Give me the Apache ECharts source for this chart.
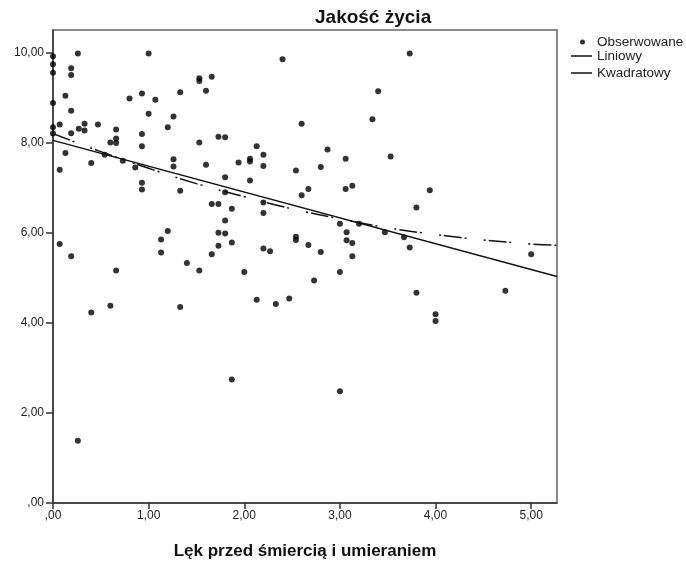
<!DOCTYPE html>
<html>
<head>
<meta charset="utf-8">
<script src="https://cdn.jsdelivr.net/npm/echarts@6/dist/echarts.min.js"></script>
<style>
  html, body { margin: 0; padding: 0; background: #fff; }
  #chart { width: 686px; height: 565px; }
</style>
</head>
<body>
<div id="chart"></div>
<script>
var obsX = [0.00,0.00,0.00,0.00,0.00,0.00,0.07,0.07,0.13,0.13,0.19,0.19,0.19,0.19,0.26,0.27,0.33,0.33,0.40,0.47,
  0.54,0.60,0.66,0.66,0.66,0.73,0.80,0.86,0.93,0.93,0.93,0.93,0.93,1.00,1.00,1.07,1.20,1.26,1.26,1.26,
  1.33,1.33,1.53,1.53,1.53,1.60,1.60,1.66,1.73,1.80,1.80,1.80,
  2.40,3.73,3.40,3.34,2.60,2.13,2.20,1.94,2.06,2.06,2.20,2.87,3.06,3.53,2.06,2.54,2.80,2.60,2.67,3.06,3.13,3.94,
  0.07,0.19,0.40,0.60,0.66,1.13,1.13,1.20,1.33,1.40,1.53,1.66,1.73,1.80,1.73,1.80,1.73,1.66,1.87,
  1.87,1.87,2.20,2.20,2.00,2.13,2.33,2.47,2.20,2.27,2.54,2.54,2.67,2.80,2.73,3.00,3.00,3.07,3.07,3.13,3.13,
  3.20,3.47,3.67,3.73,3.80,3.80,4.00,4.00,
  5.00,4.73,0.26,3.00];
var obsY = [9.92,9.74,9.55,8.88,8.34,8.20,8.40,7.40,9.04,7.77,9.65,9.50,8.71,8.21,9.98,8.31,8.42,8.27,7.55,8.40,
  7.73,8.00,8.29,8.09,7.99,7.60,8.98,7.45,9.09,8.19,7.92,7.11,6.96,9.98,8.64,8.95,8.34,8.58,7.63,7.47,
  9.12,6.93,9.43,9.37,8.00,9.15,7.51,9.46,8.13,8.12,7.23,6.90,
  9.85,9.98,9.14,8.52,8.42,7.92,7.73,7.56,7.64,7.58,7.48,7.85,7.64,7.69,7.16,7.38,7.46,6.83,6.97,6.97,7.04,6.94,
  5.75,5.48,4.23,4.38,5.16,5.85,5.56,6.04,4.35,5.33,5.16,6.64,6.64,6.27,6.00,5.98,5.71,5.52,2.74,
  6.53,5.78,6.67,6.44,5.13,4.51,4.42,4.54,5.65,5.59,5.91,5.84,5.73,5.57,4.94,5.13,6.20,6.01,5.83,5.77,5.48,
  6.20,6.01,5.90,5.67,6.56,4.67,4.19,4.04,
  5.52,4.71,1.38,2.48];

// fit lines
var linX = [0, 5.27];
var linY = [8.05, 5.03];
var quadX = [0, 0.5, 1, 1.5, 2, 2.5, 3, 3.5, 4, 4.5, 5, 5.27];
var quadY = [8.20, 7.80, 7.43, 7.09, 6.80, 6.53, 6.31, 6.11, 5.96, 5.84, 5.75, 5.72];

var xTicks = [0, 1, 2, 3, 4, 5];
var yTicks = [0, 2, 4, 6, 8, 10];

var FONT = '"Liberation Sans", Arial, sans-serif';

function fmt(v) {
  var s = v.toFixed(2).replace('.', ',');
  if (s.indexOf('0,') === 0) s = s.substring(1);
  return s;
}
function pairs(xs, ys) {
  return xs.map(function (x, i) { return [x, ys[i]]; });
}

var myChart = echarts.init(document.getElementById('chart'), null, { renderer: 'canvas' });

var legendText = { fontFamily: FONT, fontSize: 13.5, color: '#222' };

var option = {
  backgroundColor: '#fff',
  animation: false,
  title: {
    text: 'Jakość życia',
    left: 310,
    top: 3,
    textStyle: { fontFamily: FONT, fontSize: 19, fontWeight: 'bold', color: '#111' }
  },
  legend: [{
    data: [{ name: 'Obserwowane', icon: 'circle' }],
    left: 580, top: 35, padding: 0,
    itemWidth: 5, itemHeight: 5,
    textStyle: { fontFamily: FONT, fontSize: 13.5, color: '#222', padding: [0, 0, 0, 7] }
  }, {
    data: [{ name: 'Liniowy', icon: 'rect' }],
    left: 571, top: 49, padding: 0,
    itemWidth: 21, itemHeight: 1.5,
    textStyle: legendText
  }, {
    data: [{ name: 'Kwadratowy', icon: 'rect' }],
    left: 571, top: 66, padding: 0,
    itemWidth: 21, itemHeight: 1.5,
    textStyle: legendText
  }],
  grid: {
    left: 53, right: 129, top: 30, bottom: 57,
    show: true, borderColor: '#666', borderWidth: 1.5
  },
  xAxis: {
    type: 'value',
    min: 0, max: 5.27,
    name: 'Lęk przed śmiercią i umieraniem',
    nameLocation: 'middle',
    nameGap: 40,
    nameTextStyle: { fontFamily: FONT, fontSize: 17, fontWeight: 'bold', color: '#111' },
    axisLine: { show: true, lineStyle: { color: '#333', width: 1.5 } },
    axisTick: { show: true, length: 6, lineStyle: { color: '#333', width: 1.5 }, customValues: xTicks },
    axisLabel: { fontFamily: FONT, fontSize: 12, color: '#222', margin: 7, customValues: xTicks, formatter: fmt },
    splitLine: { show: false }
  },
  yAxis: {
    type: 'value',
    min: 0, max: 10.5,
    axisLine: { show: true, lineStyle: { color: '#333', width: 1.5 } },
    axisTick: { show: true, length: 7, lineStyle: { color: '#333', width: 1.5 }, customValues: yTicks },
    axisLabel: { fontFamily: FONT, fontSize: 12, color: '#222', margin: 9, customValues: yTicks, formatter: fmt },
    splitLine: { show: false }
  },
  series: [{
    name: 'Obserwowane',
    type: 'scatter',
    symbol: 'circle',
    symbolSize: 6,
    itemStyle: { color: '#000' },
    data: pairs(obsX, obsY)
  }, {
    name: 'Liniowy',
    type: 'line',
    symbol: 'none',
    lineStyle: { color: '#111', width: 1.5 },
    itemStyle: { color: '#111' },
    data: pairs(linX, linY)
  }, {
    name: 'Kwadratowy',
    type: 'line',
    symbol: 'none',
    smooth: true,
    lineStyle: { color: '#111', width: 1.5, type: [18, 3, 2, 17, 2, 3] },
    itemStyle: { color: '#111' },
    data: pairs(quadX, quadY)
  }]
};

if (option && typeof option === "object") {
  myChart.setOption(option, true);
}
</script>
</body>
</html>
